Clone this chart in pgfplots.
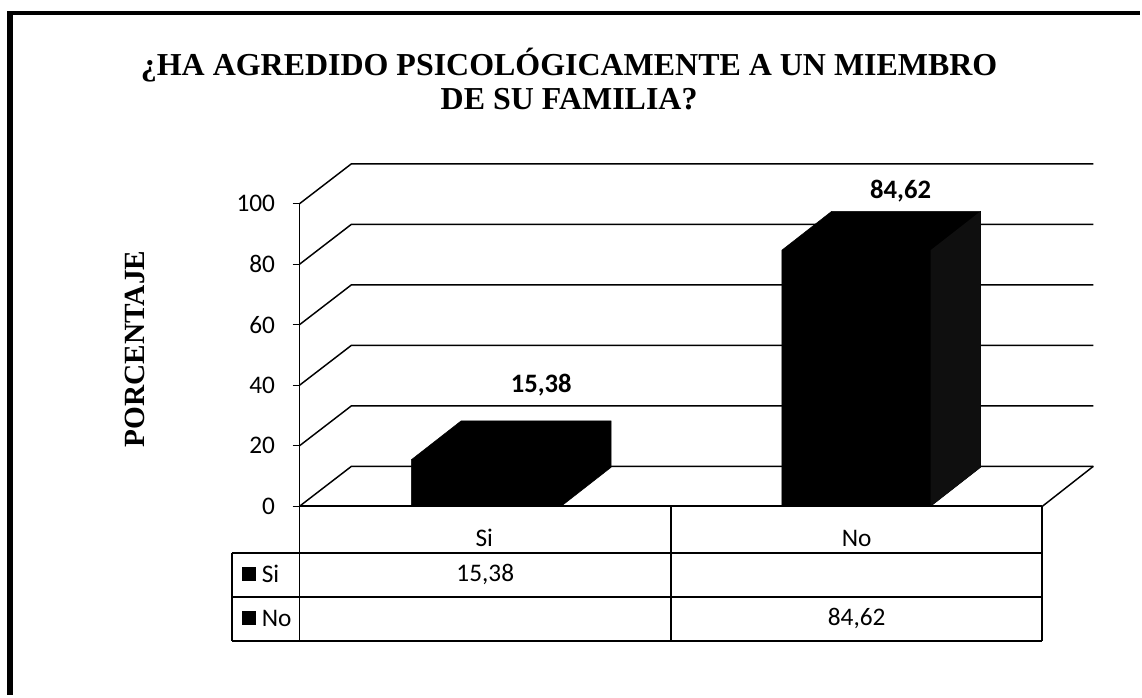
\documentclass[border=0pt]{standalone}
\usepackage{fontspec}
\setmainfont{Carlito}
\newfontfamily\tit{Liberation Serif}
\usepackage{pgfplots}
\pgfplotsset{compat=1.18}
\newcommand{\lab}{\fontsize{19}{23}\selectfont}
\newcommand{\labb}{\fontsize{20}{24}\selectfont\bfseries}
\begin{document}
\begin{tikzpicture}
\begin{axis}[
  scale only axis, width=596.25pt, height=255.66pt,
  xmin=300, xmax=1095, ymin=0, ymax=112.5,
  clip=false,
  axis line style={draw=none},
  xtick=\empty,
  ytick={0,20,40,60,80,100},
  ytick pos=left, tick align=outside,
  major tick length=5.25pt,
  tick style={black, line width=1pt},
  yticklabel shift=13pt,
  yticklabel style={inner sep=0pt, font=\lab},
  /pgf/number format/assume math mode=true,
]
% page and frame
\path (axis cs:0,-62.38) rectangle (axis cs:1142,167.33);
\addplot[black, line width=4.2pt] coordinates {(10,-62.38)(10,163)};
\addplot[black, line width=2.6pt] coordinates {(7.5,163)(1142,163)};
% walls
\addplot[black, line width=1.1pt] coordinates {(300,0)(352,13.2)(1095,13.2)};
\addplot[black, line width=1.1pt] coordinates {(300,20)(352,33.2)(1095,33.2)};
\addplot[black, line width=1.1pt] coordinates {(300,40)(352,53.2)(1095,53.2)};
\addplot[black, line width=1.1pt] coordinates {(300,60)(352,73.2)(1095,73.2)};
\addplot[black, line width=1.1pt] coordinates {(300,80)(352,93.2)(1095,93.2)};
\addplot[black, line width=1.1pt] coordinates {(300,100)(352,113.2)(1095,113.2)};
\addplot[black, line width=1.1pt] coordinates {(1095,13.2)(1044,0)};
\addplot[black, line width=1.1pt] coordinates {(300,0)(300,100)};
% bars
\addplot[fill=black, draw=black] coordinates {(412,0)(412,15.38)(462,28.25)(612,28.25)(612,12.87)(562,0)} --cycle;
\addplot[fill=black, draw=black] coordinates {(783,0)(783,84.62)(833,97.49)(982,97.49)(982,12.87)(932,0)} --cycle;
\addplot[fill=black!94, draw=none] coordinates {(932,0)(932,84.62)(982,97.49)(982,12.87)} --cycle;
% table under the axis
\addplot[black, line width=1.4pt] coordinates {(300,0)(1044,0)};
\addplot[black, line width=1.4pt] coordinates {(300,0)(300,-44.55)};
\addplot[black, line width=1.4pt] coordinates {(672,0)(672,-44.55)};
\addplot[black, line width=1.4pt] coordinates {(1044,0)(1044,-44.55)};
\addplot[black, line width=1.4pt] coordinates {(232,-15.51)(1044,-15.51)};
\addplot[black, line width=1.4pt] coordinates {(232,-30.03)(1044,-30.03)};
\addplot[black, line width=1.4pt] coordinates {(232,-44.55)(1044,-44.55)};
\addplot[black, line width=1.4pt] coordinates {(232,-15.51)(232,-44.55)};
% legend keys
\addplot[fill=black, draw=none] coordinates {(242,-20)(256,-20)(256,-24.6)(242,-24.6)} --cycle;
\addplot[fill=black, draw=none] coordinates {(242,-34.6)(256,-34.6)(256,-39.2)(242,-39.2)} --cycle;
% texts
\node[font=\lab] at (axis cs:485,-10.6) {Si};
\node[font=\lab] at (axis cs:858,-10.6) {No};
\node[font=\lab, anchor=west, inner sep=0pt] at (axis cs:262,-22.5) {Si};
\node[font=\lab, anchor=west, inner sep=0pt] at (axis cs:262,-37) {No};
\node[font=\lab] at (axis cs:486,-22.5) {15,38};
\node[font=\lab] at (axis cs:858,-37) {84,62};
\node[font=\labb] at (axis cs:542,39.9) {15,38};
\node[font=\labb] at (axis cs:902,104.3) {84,62};
\node[font={\tit\fontsize{24}{25.5}\selectfont\bfseries}, align=center] at (axis cs:570,141.3)
  {¿HA AGREDIDO PSICOLÓGICAMENTE A UN MIEMBRO\\DE SU FAMILIA?};
\node[font={\tit\fontsize{22}{26}\selectfont\bfseries}, rotate=90] at (axis cs:135,52) {PORCENTAJE};
\end{axis}
\end{tikzpicture}
\end{document}
